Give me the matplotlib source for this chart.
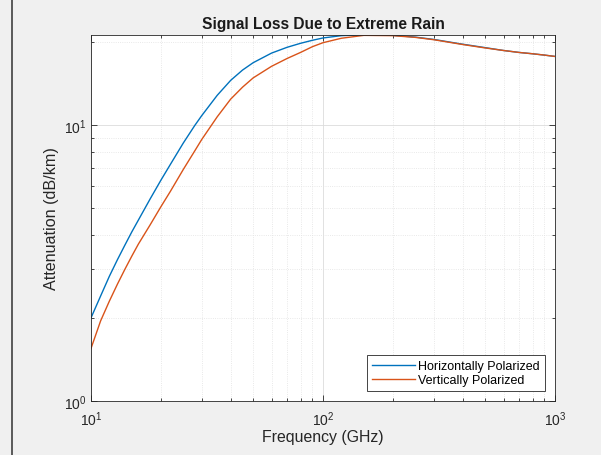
import matplotlib
matplotlib.use('Agg')
import matplotlib.pyplot as plt
from matplotlib.lines import Line2D
from matplotlib.ticker import NullFormatter

plt.rcParams['font.family'] = ['Liberation Sans', 'DejaVu Sans']
plt.rcParams['mathtext.default'] = 'regular'

# values
freq_ghz = [10, 11, 12, 13, 14, 15, 16, 18, 20, 22, 25, 28, 30, 35, 40, 45, 50,
            60, 70, 80, 90, 100, 120, 150, 200, 250, 300, 400, 500, 600, 700,
            800, 900, 1000]
atten_h = [2.0, 2.4, 2.83, 3.25, 3.67, 4.1, 4.52, 5.4, 6.3, 7.2, 8.6, 9.95,
           10.8, 12.8, 14.5, 15.8, 16.8, 18.2, 19.1, 19.75, 20.25, 20.65, 21.05,
           21.2, 21.1, 20.8, 20.4, 19.6, 19.05, 18.6, 18.3, 18.1, 17.9, 17.7]
atten_v = [1.55, 1.95, 2.3, 2.65, 3.0, 3.35, 3.7, 4.35, 5.05, 5.75, 6.9, 8.05,
           8.85, 10.7, 12.4, 13.7, 14.8, 16.3, 17.4, 18.3, 19.2, 19.85, 20.6,
           21.1, 21.05, 20.75, 20.35, 19.55, 19.0, 18.6, 18.3, 18.1, 17.9, 17.7]
labels = ['Horizontally Polarized', 'Vertically Polarized']

fig = plt.figure(figsize=(6.01, 4.56), dpi=100, facecolor='#f0f0f0')
ax = fig.add_axes([0.1514, 0.1184, 0.7721, 0.8037])
ax.set_facecolor('white')

ax.loglog(freq_ghz, atten_h, color='#0072BD', lw=1.0, label=labels[0])
ax.loglog(freq_ghz, atten_v, color='#D95319', lw=1.0, label=labels[1])

ax.set_xlim(10, 1000)
ax.set_ylim(1, 21.25)
ax.yaxis.set_minor_formatter(NullFormatter())
ax.xaxis.set_minor_formatter(NullFormatter())

ax.grid(True, which='major', color='#dcdcdc', lw=0.6, ls='-')
ax.grid(True, which='minor', color='#e2e2e2', lw=0.6, ls=':')
ax.set_axisbelow(True)

for s in ax.spines.values():
    s.set_color('#262626')
    s.set_linewidth(0.6)
ax.tick_params(which='both', direction='in', top=True, right=True,
               colors='#262626', labelsize=10, width=0.6)
ax.tick_params(which='major', length=4)
ax.tick_params(which='minor', length=2.5)
ax.tick_params(axis='x', pad=6)

ax.set_title('Signal Loss Due to Extreme Rain', fontsize=11.2, fontweight='bold',
             color='#1a1a1a', pad=5)
ax.set_xlabel('Frequency (GHz)', fontsize=11.4, color='#262626', labelpad=1)
ax.set_ylabel('Attenuation (dB/km)', fontsize=11.6, color='#262626', labelpad=3)

leg = ax.legend(loc='lower right', fontsize=9, fancybox=False, framealpha=1,
                edgecolor='#262626', handlelength=3.4, handletextpad=0.3,
                borderpad=0.4, labelspacing=0.15, borderaxespad=0.8)
leg.get_frame().set_linewidth(0.6)

# dark border line at the left edge of the screenshot
fig.add_artist(Line2D([12 / 601, 12 / 601], [0, 1], color='#404040', lw=1.2))

fig.savefig('out.png', dpi=100, facecolor=fig.get_facecolor())
